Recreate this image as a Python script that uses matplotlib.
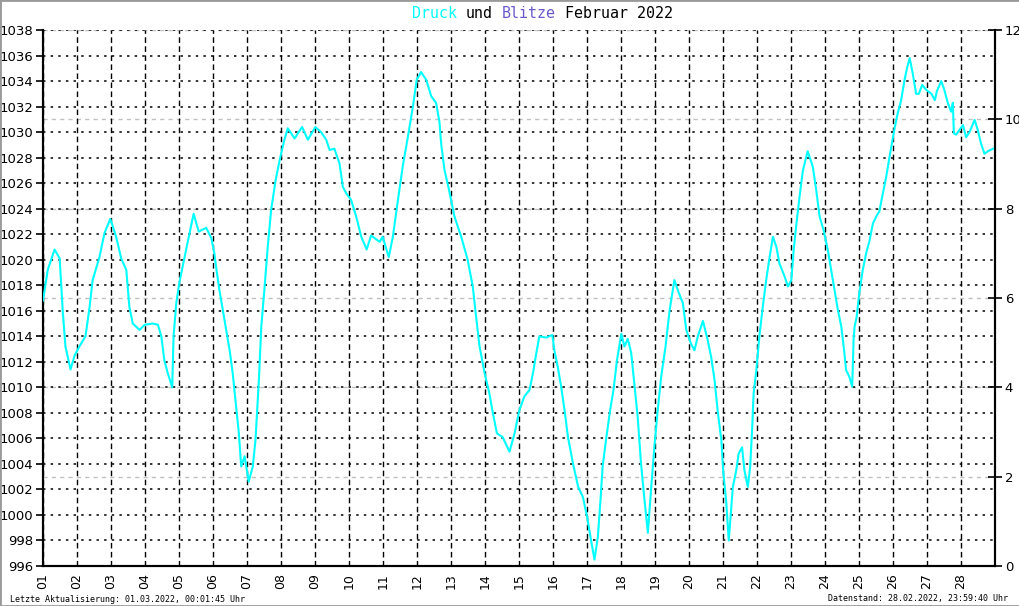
import matplotlib
matplotlib.use("Agg")
import matplotlib.pyplot as plt
from matplotlib.patches import Rectangle
import numpy as np

# Luftdruck Februar 2022 (Tag als Bruchzahl, hPa)
zeit = [1.00, 1.14, 1.34, 1.49, 1.58, 1.66, 1.81, 1.93, 2.07, 2.25, 2.37, 2.46, 2.66, 2.81,
        2.98, 3.15, 3.30, 3.45, 3.54, 3.64, 3.84, 3.99, 4.23, 4.38, 4.48, 4.57, 4.67, 4.80,
        4.84, 4.92, 5.01, 5.21, 5.43, 5.58, 5.80, 5.95, 6.04, 6.09, 6.19, 6.29, 6.39, 6.49,
        6.58, 6.66, 6.76, 6.83, 6.93, 7.05, 7.17, 7.25, 7.35, 7.42, 7.51, 7.61, 7.71, 7.84,
        7.96, 8.10, 8.20, 8.40, 8.62, 8.79, 9.01, 9.18, 9.33, 9.43, 9.57, 9.72, 9.82, 9.92,
        10.06, 10.21, 10.36, 10.52, 10.65, 10.90, 10.99, 11.17, 11.29, 11.44, 11.58, 11.73,
        11.88, 11.99, 12.12, 12.27, 12.42, 12.56, 12.66, 12.71, 12.81, 12.94, 13.10, 13.30,
        13.49, 13.64, 13.74, 13.84, 13.99, 14.13, 14.23, 14.35, 14.52, 14.72, 14.87, 15.01,
        15.16, 15.31, 15.41, 15.51, 15.60, 15.80, 15.98, 16.04, 16.14, 16.24, 16.34, 16.44,
        16.59, 16.74, 16.88, 17.00, 17.12, 17.22, 17.32, 17.39, 17.46, 17.56, 17.68, 17.78,
        17.88, 18.01, 18.10, 18.20, 18.30, 18.39, 18.49, 18.59, 18.69, 18.79, 18.89, 18.99,
        19.08, 19.18, 19.31, 19.43, 19.57, 19.70, 19.82, 19.92, 20.06, 20.16, 20.26, 20.41,
        20.55, 20.65, 20.75, 20.85, 20.95, 21.01, 21.09, 21.17, 21.24, 21.29, 21.39, 21.46,
        21.56, 21.63, 21.73, 21.80, 21.86, 21.90, 21.98, 22.07, 22.17, 22.27, 22.37, 22.47,
        22.57, 22.66, 22.81, 22.91, 23.01, 23.08, 23.15, 23.25, 23.35, 23.49, 23.64, 23.74,
        23.84, 23.96, 24.08, 24.18, 24.28, 24.38, 24.48, 24.57, 24.62, 24.72, 24.80, 24.84,
        24.87, 24.93, 25.01, 25.11, 25.21, 25.31, 25.41, 25.51, 25.60, 25.65, 25.80, 25.90,
        26.04, 26.14, 26.24, 26.34, 26.42, 26.49, 26.58, 26.68, 26.76, 26.86, 26.98, 27.13,
        27.23, 27.29, 27.42, 27.51, 27.61, 27.71, 27.76, 27.79, 27.86, 27.96, 28.06, 28.15,
        28.25, 28.40, 28.49, 28.59, 28.69, 28.79, 28.94]
druck = [1016.8, 1019.2, 1020.8, 1020.1, 1016.0, 1013.2, 1011.4, 1012.5, 1013.2, 1014.0, 1016.3,
         1018.4, 1020.2, 1022.1, 1023.2, 1021.8, 1020.1, 1019.2, 1016.3, 1015.0, 1014.5, 1014.9,
         1015.0, 1014.9, 1014.0, 1012.1, 1011.1, 1010.0, 1014.0, 1016.6, 1018.2, 1020.8, 1023.6,
         1022.2, 1022.5, 1021.7, 1020.5, 1019.45, 1017.6, 1016.05, 1014.5, 1012.9, 1011.1, 1009.0,
         1006.4, 1003.8, 1004.6, 1002.6, 1003.8, 1005.9, 1010.6, 1014.75, 1017.6, 1021.0, 1023.9,
         1026.2, 1027.8, 1029.4, 1030.3, 1029.5, 1030.4, 1029.4, 1030.4, 1030.0, 1029.4, 1028.6,
         1028.7, 1027.55, 1025.7, 1025.2, 1024.7, 1023.4, 1021.8, 1020.8, 1021.9, 1021.4, 1021.8,
         1020.2, 1021.8, 1024.7, 1027.3, 1029.6, 1032.0, 1034.1, 1034.7, 1034.1, 1032.8, 1032.3,
         1030.8, 1029.1, 1027.0, 1025.5, 1023.4, 1021.8, 1020.0, 1017.9, 1015.5, 1013.2, 1011.1,
         1009.5, 1008.0, 1006.4, 1006.1, 1004.95, 1006.4, 1008.2, 1009.3, 1009.8, 1011.1, 1012.7,
         1014.0, 1013.9, 1014.1, 1012.9, 1011.6, 1010.05, 1008.2, 1006.1, 1004.0, 1002.2, 1001.4,
         999.9, 998.0, 996.5, 998.3, 1000.9, 1003.8, 1005.9, 1008.2, 1009.8, 1012.1, 1014.2,
         1013.2, 1013.8, 1012.7, 1010.3, 1007.7, 1004.0, 1001.2, 998.6, 1002.2, 1005.6, 1008.2,
         1010.8, 1013.2, 1016.05, 1018.4, 1017.4, 1016.6, 1014.5, 1013.4, 1012.9, 1014.0, 1015.2,
         1013.7, 1012.4, 1010.6, 1008.0, 1005.9, 1003.3, 1001.2, 998.0, 1000.4, 1002.2, 1003.5,
         1004.8, 1005.3, 1003.5, 1002.2, 1003.8, 1006.9, 1009.5, 1011.35, 1014.0, 1016.3, 1018.4,
         1020.2, 1021.8, 1021.0, 1019.7, 1018.7, 1017.9, 1018.4, 1020.8, 1022.6, 1024.9, 1027.0,
         1028.5, 1027.3, 1025.5, 1023.4, 1022.3, 1020.8, 1019.2, 1017.6, 1016.05, 1014.75, 1012.7,
         1011.35, 1010.8, 1010.05, 1013.7, 1014.75, 1015.5, 1017.4, 1019.2, 1020.5, 1021.5,
         1022.85, 1023.4, 1023.8, 1024.5, 1026.5, 1028.1, 1030.2, 1031.5, 1032.5, 1034.1, 1035.1,
         1035.8, 1034.6, 1033.0, 1033.0, 1033.7, 1033.3, 1033.0, 1032.5, 1033.2, 1034.0, 1033.3,
         1032.3, 1031.6, 1032.3, 1029.9, 1029.8, 1030.2, 1030.55, 1029.6, 1030.0, 1030.95, 1030.2,
         1029.1, 1028.3, 1028.5, 1028.7]

tage = list(range(1, 29))
tag_labels = ["%02d" % t for t in tage]
druck_ticks = list(range(996, 1039, 2))
blitz_ticks = list(range(0, 13, 2))

cyan = "#00ffff"
lila = "#6a5acd"

fig = plt.figure(figsize=(10.2, 6.06), dpi=100)
ax = fig.add_axes([43 / 1020, 40 / 606, 952 / 1020, 536 / 606])
ax2 = ax.twinx()

# Blitz-Achse nach hinten, Druck-Achse nach vorn
ax.set_zorder(ax2.get_zorder() + 1)
ax.patch.set_visible(False)

ax.plot(zeit, druck, color=cyan, lw=1.5, zorder=5)

ax.set_xlim(1, 29)
ax.set_ylim(996, 1038)
ax2.set_ylim(0, 12)

ax.set_xticks(tage)
ax.set_xticklabels(tag_labels, rotation=90, fontsize=9)
ax.set_yticks(druck_ticks)
ax.set_yticklabels([str(v) for v in druck_ticks], fontsize=9.5)
ax2.set_yticks(blitz_ticks)
ax2.set_yticklabels([str(v) for v in blitz_ticks], fontsize=9.5)

ax.xaxis.grid(True, color="black", lw=1.0, linestyle=(0, (4, 2.5)))
ax.yaxis.grid(True, color="black", lw=1.1, linestyle=(0, (1.6, 3.4)))
ax2.yaxis.grid(True, color="#c0c0c0", lw=1.0, linestyle=(0, (3, 3)))

ax.tick_params(axis="x", length=0, pad=5)
ax.tick_params(axis="y", direction="out", length=5, width=1.2, pad=2)
ax2.tick_params(axis="y", direction="inout", length=10, width=1.2, pad=2)

for a in (ax, ax2):
    a.spines["top"].set_visible(False)
    for s in ("left", "right", "bottom"):
        a.spines[s].set_linewidth(1.5)
        a.spines[s].set_color("black")

# Titel mit farbigen Woertern
mono = "DejaVu Sans Mono"
x0 = 412
cw = 9.0
for txt, pos, col in [("Druck", 0, cyan), ("und", 6, "black"),
                      ("Blitze", 10, lila), ("Februar 2022", 17, "black")]:
    fig.text((x0 + pos * cw) / 1020, 1 - 13 / 606, txt, color=col, family=mono,
             fontsize=10.8, ha="left", va="center")

fig.text(10 / 1020, 7 / 606, "Letzte Aktualisierung: 01.03.2022, 00:01:45 Uhr",
         family=mono, fontsize=6, ha="left", va="center")
fig.text(1008 / 1020, 7 / 606, "Datenstand: 28.02.2022, 23:59:40 Uhr",
         family=mono, fontsize=6, ha="right", va="center")

fig.patches.append(Rectangle((0, 0), 1, 1, transform=fig.transFigure, fill=False,
                             edgecolor="#999999", lw=2))

fig.savefig("out.png", dpi=100, facecolor="white")
